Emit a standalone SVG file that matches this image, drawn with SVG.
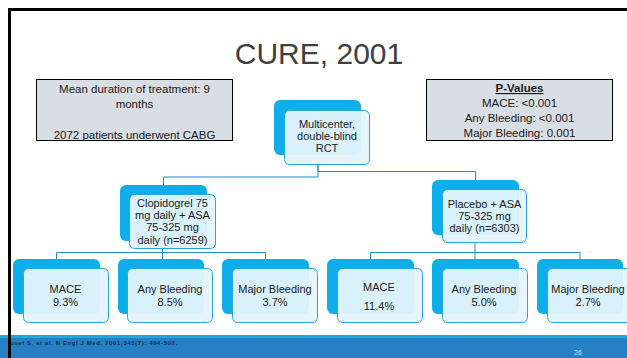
<svg xmlns="http://www.w3.org/2000/svg" width="627" height="358" viewBox="0 0 627 358">
<style>
.back{fill:#0eaeea}
.front{fill:#e5f4fc;fill-opacity:0.95;stroke:#27a6df;stroke-width:1}
.nt{font-family:"Liberation Sans",Arial,sans-serif;font-size:11px;fill:#1a1a1a;text-anchor:middle}
.bt{font-family:"Liberation Sans",Arial,sans-serif;font-size:11.5px;fill:#1a1a1a;text-anchor:middle}
.info{fill:#d9dee4;stroke:#000;stroke-width:1}
.conn{fill:none;stroke:#1f8fc9;stroke-width:1}
</style>
<rect width="627" height="358" fill="#fff"/>
<rect x="0" y="335" width="627" height="3" fill="#1ea9e1"/>
<rect x="0" y="338" width="627" height="20" fill="#2780c3"/>
<text x="10" y="344.5" font-family="Liberation Sans,Arial,sans-serif" font-size="6" font-weight="bold" letter-spacing="0.6" fill="#1b2d55">usef S, et al.  N Engl J Med.  2001;345(7): 494-502.</text>
<text x="578" y="355" font-family="Liberation Sans,Arial,sans-serif" font-size="7" fill="#cfe3f4" text-anchor="middle">26</text>
<path d="M9.5 358 V9.5 H627" fill="none" stroke="#000" stroke-width="3"/>
<text x="319" y="64" font-family="Liberation Sans,Arial,sans-serif" font-size="30" fill="#404040" text-anchor="middle">CURE, 2001</text>
<g id="info-left">
<rect class="info" x="36.5" y="79.5" width="196" height="61"/>
<text class="bt" x="134.5" y="93">Mean duration of treatment: 9</text>
<text class="bt" x="134.5" y="108">months</text>
<text class="bt" x="134.5" y="138.5">2072 patients underwent CABG</text>
</g>
<g id="info-right">
<rect class="info" x="426.5" y="79.5" width="186" height="61"/>
<text class="bt" x="519.5" y="92" font-weight="bold" text-decoration="underline">P-Values</text>
<text class="bt" x="519.5" y="107">MACE: &lt;0.001</text>
<text class="bt" x="519.5" y="122">Any Bleeding: &lt;0.001</text>
<text class="bt" x="519.5" y="137">Major Bleeding: 0.001</text>
</g>
<g id="connectors">
<path class="conn" d="M318 164 V177 H163.5 V185"/>
<path class="conn" d="M318 164 V171.5 H475.5 V180"/>
<path class="conn" d="M162.5 249 V252.5 H56.5 V259 M162.5 252.5 V259 M162.5 252.5 H265.5 V259"/>
<path class="conn" d="M475 243 V252.5 H370.5 V259 M475 252.5 V259 M475 252.5 H580 V259"/>
</g>
<g id="n-root">
<rect class="back" x="274" y="100" width="87" height="55" rx="6"/>
<rect class="front" x="284.5" y="110.5" width="85" height="54" rx="5"/>
<text class="nt" x="327" y="128">Multicenter,</text>
<text class="nt" x="327" y="140">double-blind</text>
<text class="nt" x="327" y="152">RCT</text>
</g>
<g id="n-clop">
<rect class="back" x="120" y="185" width="87" height="56" rx="6"/>
<rect class="front" x="129.5" y="194.5" width="86" height="54" rx="5"/>
<text class="nt" x="172.5" y="207">Clopidogrel 75</text>
<text class="nt" x="172.5" y="219">mg daily + ASA</text>
<text class="nt" x="172.5" y="231">75-325 mg</text>
<text class="nt" x="172.5" y="243.5">daily  (n=6259)</text>
</g>
<g id="n-plac">
<rect class="back" x="432" y="180" width="87" height="55" rx="6"/>
<rect class="front" x="442.5" y="189.5" width="84" height="53" rx="5"/>
<text class="nt" x="484.5" y="208">Placebo + ASA</text>
<text class="nt" x="484.5" y="220">75-325 mg</text>
<text class="nt" x="484.5" y="232">daily (n=6303)</text>
</g>
<g id="n-c-mace">
<rect class="back" x="13" y="259" width="87" height="55" rx="6"/>
<rect class="front" x="23.5" y="268.5" width="85" height="54" rx="5"/>
<text class="nt" x="65.5" y="293">MACE</text>
<text class="nt" x="65.5" y="306">9.3%</text>
</g>
<g id="n-c-any">
<rect class="back" x="118" y="259" width="86" height="55" rx="6"/>
<rect class="front" x="127.5" y="268.5" width="85" height="54" rx="5"/>
<text class="nt" x="170" y="293">Any Bleeding</text>
<text class="nt" x="170" y="306">8.5%</text>
</g>
<g id="n-c-major">
<rect class="back" x="222" y="259" width="87" height="55" rx="6"/>
<rect class="front" x="232.5" y="268.5" width="85" height="54" rx="5"/>
<text class="nt" x="275" y="293">Major Bleeding</text>
<text class="nt" x="275" y="306">3.7%</text>
</g>
<g id="n-p-mace">
<rect class="back" x="327" y="259" width="87" height="55" rx="6"/>
<rect class="front" x="337.5" y="268.5" width="85" height="54" rx="5"/>
<text class="nt" x="379" y="291">MACE</text>
<text class="nt" x="379" y="310">11.4%</text>
</g>
<g id="n-p-any">
<rect class="back" x="432" y="259" width="87" height="55" rx="6"/>
<rect class="front" x="442.5" y="268.5" width="85" height="54" rx="5"/>
<text class="nt" x="484" y="293">Any Bleeding</text>
<text class="nt" x="484" y="306">5.0%</text>
</g>
<g id="n-p-major">
<rect class="back" x="537" y="259" width="86" height="55" rx="6"/>
<rect class="front" x="547.5" y="268.5" width="85" height="54" rx="5"/>
<text class="nt" x="588" y="293">Major Bleeding</text>
<text class="nt" x="588" y="306">2.7%</text>
</g>
</svg>
